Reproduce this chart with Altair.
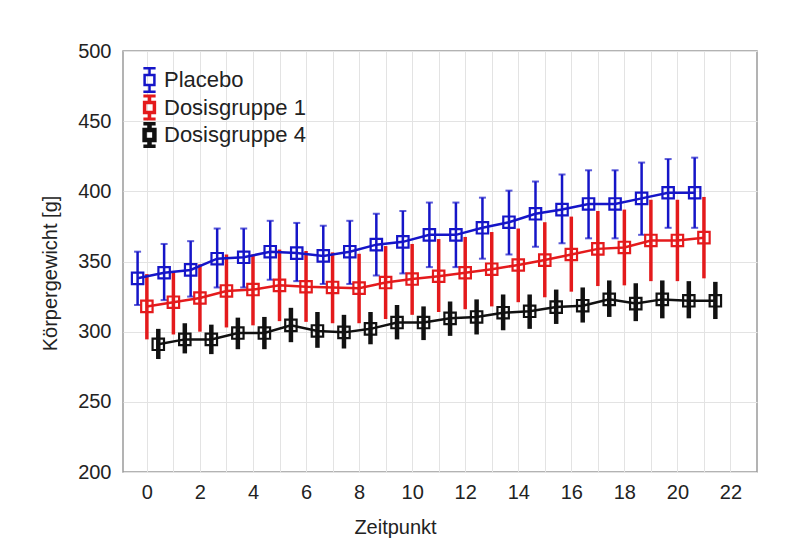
import altair as alt
import pandas as pd

timepoints = list(range(22))
series_names = ["Placebo", "Dosisgruppe 1", "Dosisgruppe 4"]
series_colors = ["#1515c8", "#e41a1c", "#111111"]
x_offsets = [-0.35, 0.0, 0.43]
bar_widths = [2.5, 4.5, 4.0]

placebo_mean = [338, 342, 344, 352, 353, 357, 356, 354, 357, 362, 364, 369,
                369, 374, 378, 384, 387, 391, 391, 395, 399, 399]
placebo_hi = [357, 362.5, 364.5, 373.5, 373.5, 379, 377.5, 375.5, 379, 384, 386, 392,
              392, 395.5, 400.5, 407, 412, 415, 415, 420.5, 423, 424]
placebo_lo = [319, 322.5, 325, 331.5, 331.5, 337, 336, 334, 334, 340, 341.5, 346,
              346, 352, 355, 360.5, 363, 366.5, 366.5, 369, 374, 374]

dosis1_mean = [318, 321, 324, 329, 330, 333, 332, 331.5, 331, 335, 337.5, 339.5,
               342, 344.5, 347.5, 351, 355, 359, 360, 365, 365, 367]
dosis1_hi = [341, 343, 348, 355, 355, 358.5, 357.5, 356.5, 355.5, 361, 362.5, 366,
             367.5, 371, 373.5, 378, 382, 386, 387, 394, 394, 396]
dosis1_lo = [294.5, 298, 300, 303, 304.5, 307.5, 307, 306, 306, 309, 312, 314,
             316, 318, 321, 324.5, 328.5, 332.5, 333, 336, 336, 338]

dosis4_mean = [291, 294.5, 294.5, 299, 299, 304.5, 300.5, 299.5, 302, 306.5, 306.5, 309.5,
               310.5, 313.5, 314.5, 317.5, 318.5, 323, 320, 323, 322, 322]
dosis4_hi = [302, 306, 305, 310, 310.5, 317, 314, 312, 314, 319, 318, 321.5,
             323, 326.5, 326.5, 330, 331.5, 336.5, 334.5, 336.5, 336, 335.5]
dosis4_lo = [280.5, 284.5, 284, 287.5, 287.5, 292.5, 288.5, 288, 291, 294.5, 294, 297,
             298, 301, 302, 305.5, 306.5, 310.5, 307.5, 309.5, 309.5, 309]

x_tick_values = list(range(0, 23))
y_tick_values = [200, 250, 300, 350, 400, 450, 500]

rows = []
for name, off, m_arr, lo_arr, hi_arr in [
    (series_names[0], x_offsets[0], placebo_mean, placebo_lo, placebo_hi),
    (series_names[1], x_offsets[1], dosis1_mean, dosis1_lo, dosis1_hi),
    (series_names[2], x_offsets[2], dosis4_mean, dosis4_lo, dosis4_hi),
]:
    for t, m, lo, hi in zip(timepoints, m_arr, lo_arr, hi_arr):
        rows.append({"series": name, "t": t, "x": t + off, "mean": m, "lo": lo, "hi": hi})
df = pd.DataFrame(rows)

FONT = "Liberation Sans"

legend_symbol = ("M-0.4,-0.4H0.4V0.4H-0.4Z M0,-0.95V-0.4 M0,0.4V0.95 "
                 "M-0.5,-0.95H0.5 M-0.5,0.95H0.5")

legend = alt.Legend(
    orient="none", legendX=12, legendY=16, title=None, padding=0,
    symbolType=legend_symbol, symbolSize=600, symbolStrokeWidth=2.5,
    symbolFillColor="transparent", symbolOpacity=1, labelFont=FONT, labelFontSize=22,
    labelColor="#222222", rowPadding=1.5, labelOffset=0, clipHeight=26,
)

color = alt.Color("series:N", scale=alt.Scale(domain=series_names, range=series_colors),
                  legend=legend)

x_axis = alt.Axis(values=x_tick_values, labelExpr="datum.value % 2 == 0 ? datum.label : ''",
                  grid=True, gridColor="#e3e3e3", gridWidth=1, ticks=False, domain=False,
                  labelFont=FONT, labelFontSize=20, labelColor="#222222", labelPadding=10,
                  titleFont=FONT, titleFontSize=20, titleFontWeight="normal", titleColor="#222222",
                  titleX=272, titleY=55, titleBaseline="middle", titleAlign="center")
y_axis = alt.Axis(values=y_tick_values, grid=True, gridColor="#e3e3e3", gridWidth=1,
                  ticks=False, domain=False,
                  labelFont=FONT, labelFontSize=20, labelColor="#222222", labelPadding=12,
                  titleFont=FONT, titleFontSize=20, titleFontWeight="normal", titleColor="#222222",
                  titleX=-73, titleY=222, titleBaseline="middle", titleAlign="center")

x_enc = alt.X("x:Q", scale=alt.Scale(domain=[-0.9, 23], nice=False, zero=False),
              axis=x_axis, title="Zeitpunkt")
y_enc = alt.Y("mean:Q", scale=alt.Scale(domain=[200, 500], nice=False, zero=False),
              axis=y_axis, title="Körpergewicht [g]")
sw = alt.StrokeWidth("series:N", scale=alt.Scale(domain=series_names, range=bar_widths),
                     legend=None)

base = alt.Chart(df)

bars = base.mark_rule().encode(x=x_enc, y=alt.Y("lo:Q"), y2="hi:Q", color=color, strokeWidth=sw)

placebo_only = base.transform_filter(alt.datum.series == "Placebo")
caps_lo = placebo_only.mark_tick(orient="horizontal", size=7, thickness=2,
                                 color=series_colors[0]).encode(x=x_enc, y=alt.Y("lo:Q"))
caps_hi = placebo_only.mark_tick(orient="horizontal", size=7, thickness=2,
                                 color=series_colors[0]).encode(x=x_enc, y=alt.Y("hi:Q"))

lines = base.mark_line(strokeWidth=2.5).encode(x=x_enc, y=y_enc, color=color)

points = base.mark_point(shape="square", filled=False, size=130, strokeWidth=2.2, opacity=1).encode(
    x=x_enc, y=y_enc, color=color)

chart = alt.layer(bars, caps_lo, caps_hi, lines, points).properties(
    width=634, height=421,
    autosize=alt.AutoSizeParams(type="none"),
    padding={"left": 115, "top": 43, "right": 15, "bottom": 72},
    background="white",
).configure_view(stroke="#9a9a9a", strokeWidth=1.5)

chart.save("out.html", embed_options={"renderer": "svg", "actions": False})
